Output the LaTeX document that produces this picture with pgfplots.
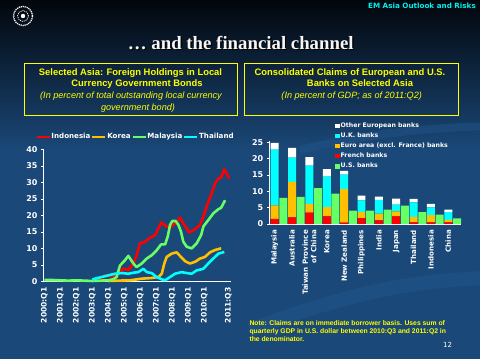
\documentclass[border=0pt]{standalone}
\usepackage{pgfplots}
\pgfplotsset{compat=1.18}
\usepackage{pgfplotstable}
\usepackage{fontspec}
\setmainfont{Liberation Sans}
\newfontfamily\dvs{DejaVu Sans}
\newfontfamily\serifb{Liberation Serif}
\definecolor{bg}{HTML}{1A4878}
\definecolor{bgtop}{HTML}{02060C}
\definecolor{swoosh}{HTML}{22568C}
\definecolor{cyanT}{HTML}{00F0F0}
\definecolor{cRed}{HTML}{FF0000}
\definecolor{cOrange}{HTML}{FFC000}
\definecolor{cGreen}{HTML}{66FF66}
\definecolor{cCyan}{HTML}{00FFFF}
\definecolor{cYellow}{HTML}{FFFF00}

\pgfplotstableread{
x     y
2003.50 0.5
2003.80 1.8
2004.20 1.6
2004.45 1.8
2004.73 2.6
2004.94 3.9
2005.25 3.4
2005.57 5.4
2005.77 7.9
2005.98 11.5
2006.30 12.0
2006.60 13.2
2006.92 14.0
2007.13 16.0
2007.30 17.9
2007.55 16.9
2007.86 16.3
2008.17 17.6
2008.48 19.3
2008.75 17.1
2009.07 14.8
2009.42 15.8
2009.73 17.1
2009.94 19.6
2010.21 23.6
2010.46 26.7
2010.67 29.7
2010.88 31.2
2011.05 31.5
2011.25 34.0
2011.40 32.7
2011.55 31.2
}\indonesia

\pgfplotstableread{
x     y
2004.00 0.1
2004.60 0.2
2005.36 0.3
2006.09 0.8
2006.71 1.0
2007.13 1.3
2007.34 2.3
2007.50 5.4
2007.65 7.4
2007.96 8.4
2008.27 8.8
2008.54 7.4
2008.80 6.1
2009.10 5.4
2009.42 5.9
2009.73 6.9
2010.04 7.4
2010.36 8.8
2010.67 9.5
2011.05 10.0
}\korea

\pgfplotstableread{
x     y
2000.00 0.4
2000.50 0.4
2001.00 0.3
2001.50 0.2
2002.00 0.3
2002.50 0.2
2003.00 0.1
2003.50 0.2
2004.00 0.3
2004.30 0.6
2004.52 1.3
2004.73 4.8
2005.04 6.4
2005.25 7.7
2005.57 5.4
2005.77 4.3
2006.09 5.4
2006.40 6.9
2006.71 7.9
2007.02 9.4
2007.30 11.2
2007.55 11.2
2007.71 13.5
2007.86 17.1
2008.00 18.3
2008.21 18.3
2008.38 17.1
2008.54 15.1
2008.69 12.0
2008.90 10.5
2009.21 10.0
2009.52 11.5
2009.80 14.0
2009.94 16.6
2010.25 18.6
2010.56 20.6
2010.88 21.9
2011.05 22.3
2011.30 24.6
}\malaysia

\pgfplotstableread{
x     y
2003.00 0.5
2003.17 0.8
2003.59 1.3
2004.00 1.8
2004.42 2.3
2004.83 2.5
2005.25 2.3
2005.57 2.6
2005.88 2.8
2006.19 3.8
2006.40 2.8
2006.71 2.5
2007.02 1.3
2007.34 0.6
2007.55 0.3
2007.86 1.3
2008.17 2.3
2008.59 2.8
2008.90 2.5
2009.21 2.3
2009.52 3.3
2009.94 3.8
2010.25 5.4
2010.56 6.9
2010.88 8.4
2011.25 8.9
}\thailand

% x: 0..10 stacked (European) bars, +0.5 U.S. bars
\pgfplotstableread{
x     us   fr   eu    uk    ot
0     0    1.6  4.1   17.1  2.0
0.5   8.0  0    0     0     0
1     0    2.0  10.9  7.4   3.0
1.5   8.3  0    0     0     0
2     0    3.5  2.7   11.7  2.6
2.5   11.0 0    0     0     0
3     0    2.3  2.9   9.3   2.3
3.5   9.3  0    0     0     0
4     0    0.4  10.3  4.4   1.2
4.5   4.1  0    0     0     0
5     0    1.8  1.8   3.6   1.5
5.5   4.1  0    0     0     0
6     0    1.1  2.1   4.2   1.0
6.5   4.4  0    0     0     0
7     0    2.3  1.6   2.0   1.9
7.5   5.6  0    0     0     0
8     0    0.5  1.7   4.4   1.1
8.5   3.6  0    0     0     0
9     0    0.5  2.2   2.4   1.1
9.5   2.9  0    0     0     0
10    0    0.5  0.8   2.3   0.8
10.5  1.7  0    0     0     0
}\claims

\begin{document}
\begin{tikzpicture}
% background
\path[use as bounding box] (0pt,0pt) rectangle (480pt,-359pt);
\fill[bg] (0pt,0pt) rectangle (480pt,-359pt);
\shade[top color=bgtop, bottom color=bg] (0pt,0pt) rectangle (480pt,-150pt);
\draw[swoosh, line width=14pt, opacity=0.55] (250pt,-330pt) .. controls (330pt,-300pt) and (400pt,-280pt) .. (490pt,-278pt);
\draw[swoosh, line width=8pt, opacity=0.45] (300pt,-150pt) .. controls (360pt,-135pt) and (420pt,-128pt) .. (490pt,-126pt);
% logo
\draw[white, line width=1.3pt, dash pattern=on 1.2pt off 0.8pt] (23pt,-16pt) circle (9.5pt);
\draw[white, line width=0.8pt, dash pattern=on 1pt off 1pt] (23pt,-16pt) circle (5.5pt);
\fill[white] (23pt,-16pt) circle (2.2pt);
% header
\node[anchor=base east, text=cyanT, font=\dvs\bfseries\fontsize{7.2}{8}\selectfont, inner sep=0pt] at (476pt,-8.5pt) {EM Asia Outlook and Risks};
\node[anchor=base, text=black, font=\serifb\bfseries\fontsize{18.8}{22}\selectfont, inner sep=0pt] at (242pt,-50.5pt) {… and the financial channel};
\node[anchor=base, text=white!93!gray, font=\serifb\bfseries\fontsize{18.8}{22}\selectfont, inner sep=0pt] at (240.8pt,-49.3pt) {… and the financial channel};
% boxes
\draw[cYellow, line width=1pt] (24pt,-63pt) rectangle (237pt,-115pt);
\draw[cYellow, line width=1pt] (244pt,-63pt) rectangle (458pt,-115pt);
\begin{scope}[every node/.style={anchor=base, text=cYellow, inner sep=0pt}]
\node[font=\bfseries\fontsize{9.4}{10}\selectfont] at (130.5pt,-75pt) {Selected Asia: Foreign Holdings in Local};
\node[font=\bfseries\fontsize{9.4}{10}\selectfont] at (137pt,-86pt) {Currency Government Bonds};
\node[font=\itshape\fontsize{9.1}{10}\selectfont] at (131pt,-98.3pt) {(In percent of total outstanding local currency};
\node[font=\itshape\fontsize{9.1}{10}\selectfont] at (138pt,-110pt) {government bond)};
\node[font=\bfseries\fontsize{9.4}{10}\selectfont] at (350pt,-75pt) {Consolidated Claims of European and U.S.};
\node[font=\bfseries\fontsize{9.4}{10}\selectfont] at (360pt,-86pt) {Banks on Selected Asia};
\node[font=\itshape\fontsize{9.1}{10}\selectfont] at (351.7pt,-98.3pt) {(In percent of GDP; as of 2011:Q2)};
\end{scope}
% note and page number
\node[anchor=north west, align=left, text=cYellow, inner sep=0pt, font=\bfseries\fontsize{6.8}{8.3}\selectfont] at (249.3pt,-320pt) {Note: Claims are on immediate borrower basis. Uses sum of\\quarterly GDP in U.S. dollar between 2010:Q3 and 2011:Q2 in\\the denominator.};
\node[text=white, font=\dvs\fontsize{7}{8}\selectfont, inner sep=0pt] at (447.7pt,-345pt) {12};

% line chart
\begin{axis}[
  at={(43.5pt,-281.3pt)}, anchor=south west,
  scale only axis, width=187.2pt, height=131.8pt,
  xmin=1999.95, xmax=2011.65, ymin=0, ymax=40,
  clip=false,
  axis x line=bottom, axis y line=left,
  axis line style={-, white, line width=0.9pt},
  ytick={0,5,10,15,20,25,30,35,40},
  xtick={2000,2001,2002,2003,2004,2005,2006,2007,2008,2009,2010,2011.5},
  xticklabels={2000:Q1,2001:Q1,2002:Q1,2003:Q1,2004:Q1,2005:Q1,2006:Q1,2007:Q1,2008:Q1,2009:Q1,2010:Q1,2011:Q3},
  /pgf/number format/assume math mode=true,
  ytick style={white, line width=0.6pt}, xtick style={draw=none},
  major tick length=2.5pt, tick align=outside,
  yticklabel style={text=white, font=\dvs\bfseries\fontsize{8}{9}\selectfont},
  xticklabel style={rotate=90, anchor=east, text=white, font=\dvs\bfseries\fontsize{7.6}{9}\selectfont, xshift=0pt},
  legend columns=4,
  legend style={at={(-0.045,1.095)}, anchor=west, draw=none, fill=none, inner sep=0pt,
    text=white, font=\dvs\bfseries\fontsize{7.1}{8}\selectfont,
    /tikz/every even column/.append style={column sep=0pt},
    nodes={inner sep=0.6pt}},
  legend image code/.code={\draw[#1] (0pt,0pt) -- (13pt,0pt);},
  every axis plot/.append style={line width=2.6pt, line join=round},
]
\addplot[cRed, no marks] table[x=x,y=y] {\indonesia};
\addlegendentry{Indonesia}
\addplot[cOrange, no marks] table[x=x,y=y] {\korea};
\addlegendentry{Korea}
\addplot[cGreen, no marks] table[x=x,y=y] {\malaysia};
\addlegendentry{Malaysia}
\addplot[cCyan, no marks] table[x=x,y=y] {\thailand};
\addlegendentry{Thailand}
\end{axis}

% bar chart
\begin{axis}[
  at={(269.3pt,-224pt)}, anchor=south west,
  scale only axis, width=191.7pt, height=83.3pt,
  xmin=-0.31, xmax=10.73, ymin=0, ymax=25.5,
  ybar stacked, bar width=0.46,
  axis x line=bottom, axis y line=left,
  axis line style={-, white, line width=0.9pt},
  ytick={0,5,10,15,20,25},
  xtick={0,1,2,3,4,5,6,7,8,9,10},
  xticklabels={Malaysia,Australia,{Taiwan Province\\of China},Korea,New Zealand,Philippines,India,Japan,Thailand,Indonesia,China},
  /pgf/number format/assume math mode=true,
  ytick style={white, line width=0.6pt}, xtick style={draw=none},
  major tick length=2.5pt, tick align=outside,
  yticklabel style={text=white, font=\dvs\bfseries\fontsize{8}{9}\selectfont},
  xticklabel style={rotate=90, anchor=east, align=right, text=white, font=\dvs\bfseries\fontsize{7.1}{8.6}\selectfont},
  reverse legend,
  legend cell align=left,
  legend style={at={(0.342,1.225)}, anchor=north west, draw=none, fill=none, inner sep=0pt,
    text=white, font=\dvs\bfseries\fontsize{6.2}{7}\selectfont, row sep=2.2pt,
    nodes={inner sep=0.8pt}},
  legend image code/.code={\fill[#1] (0pt,-2.4pt) rectangle (4.8pt,2.4pt);},
]
\addplot[fill=cGreen, draw=none] table[x=x,y=us] {\claims};
\addlegendentry{U.S. banks}
\addplot[fill=cRed, draw=none] table[x=x,y=fr] {\claims};
\addlegendentry{French banks}
\addplot[fill=cOrange, draw=none] table[x=x,y=eu] {\claims};
\addlegendentry{Euro area (excl. France) banks}
\addplot[fill=cCyan, draw=none] table[x=x,y=uk] {\claims};
\addlegendentry{U.K. banks}
\addplot[fill=white, draw=none] table[x=x,y=ot] {\claims};
\addlegendentry{Other European banks}
\end{axis}
\end{tikzpicture}
\end{document}
